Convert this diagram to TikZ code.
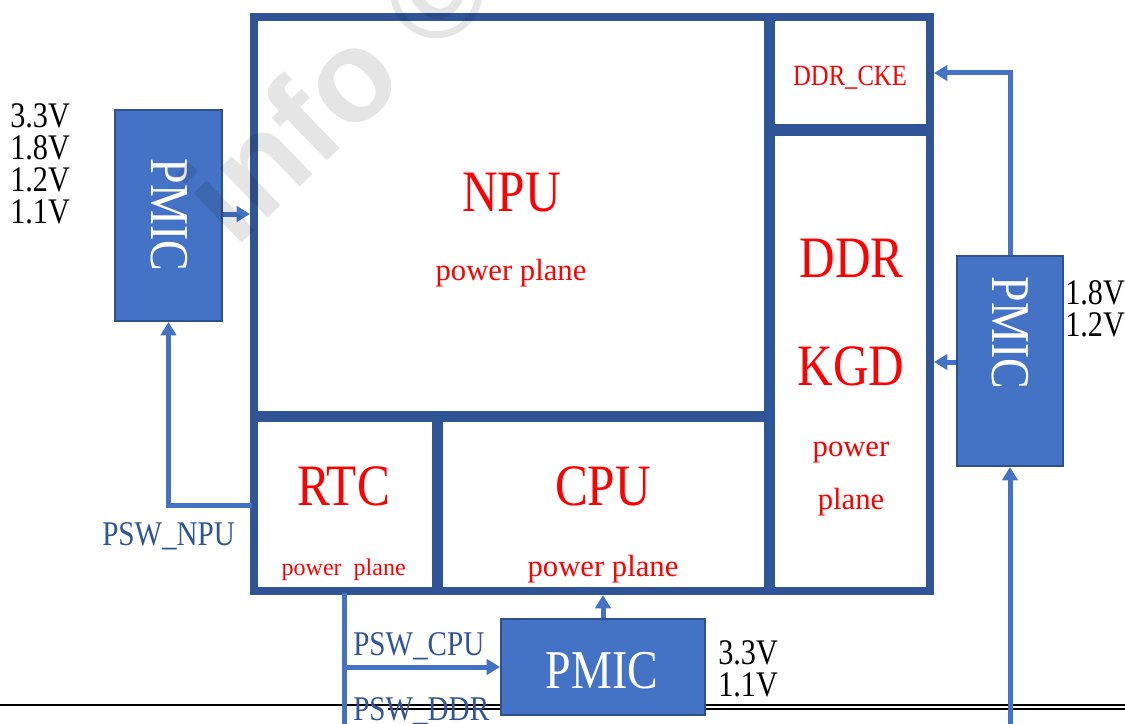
\documentclass[tikz,border=0pt]{standalone}
\usepackage{fontspec}
\setmainfont{Liberation Serif}[FakeStretch=0.84]
\newfontfamily\plainfont{Liberation Serif}
\newfontfamily\wmfont{Liberation Sans}
\usetikzlibrary{arrows.meta}
\definecolor{frameblue}{HTML}{2F5597}
\definecolor{pmicblue}{HTML}{4472C4}
\definecolor{pmicedge}{HTML}{2F528F}
\definecolor{lineblue}{HTML}{4472C4}
\definecolor{labelblue}{HTML}{2F5597}
\begin{document}
\begin{tikzpicture}[x=0.75pt,y=-0.75pt,
  frame/.style={draw=frameblue,line width=6pt},
  divider/.style={draw=frameblue,line width=8.25pt},
  pmic/.style={draw=pmicedge,line width=1.5pt,fill=pmicblue,inner sep=0pt},
  pmictext/.style={text=white,font=\fontsize{41}{41}\selectfont,inner sep=0pt},
  conn/.style={draw=lineblue,line width=3.75pt},
  arr/.style={conn,-{Triangle[length=10pt,width=11.5pt]}},
  big/.style={text=red,font=\fontsize{44}{44}\selectfont,inner sep=0pt,anchor=base},
  pp/.style={text=red,font=\plainfont\fontsize{23}{23}\selectfont,inner sep=0pt,anchor=base},
  volt/.style={font=\fontsize{27}{24}\selectfont,align=left,inner sep=0pt,anchor=north west},
  psw/.style={text=labelblue,font=\fontsize{26}{26}\selectfont,inner sep=0pt,anchor=base west},
  sheetline/.style={draw=black,line width=1.5pt}
]
\useasboundingbox (0,0) rectangle (1125,724);

% sheet lines at the bottom
\coordinate (sl1a) at (0,705);
\coordinate (sl1b) at (1125,705);
\coordinate (sl2a) at (388,709);
\coordinate (sl2b) at (1125,709);
\draw[sheetline] (sl1a) -- (sl1b);
\draw[sheetline] (sl2a) -- (sl2b);

% chip frame
\draw[frame] (254,17) rectangle (930,591);
\draw[divider] (769,13) -- (769,595);
\draw[divider] (254,416) -- (769,416);
\draw[divider] (437,416) -- (437,591);
\draw[divider] (769,130) -- (930,130);

% named connection points on the frame
\coordinate (npuW) at (250,214);
\coordinate (rtcW) at (252,505);
\coordinate (ddrE) at (934,362);
\coordinate (ckeE) at (934,73);
\coordinate (cpuS) at (603,595);
\coordinate (rtcS) at (344,593);
\coordinate (botL) at (344,730);
\coordinate (botR) at (1010,730);
\coordinate (brCPU) at (344,667);

% PMIC boxes
\node[pmic,minimum width=80.25pt,minimum height=158.25pt] (pmicL) at (168.5,215.5) {};
\node[pmic,minimum width=79.5pt,minimum height=157.5pt] (pmicR) at (1010,361) {};
\node[pmic,minimum width=153pt,minimum height=72pt] (pmicB) at (603,667) {};
\node[pmictext,rotate=-90] (pmicLt) at (169,215) {PMIC};
\node[pmictext,rotate=-90] (pmicRt) at (1010.5,333) {PMIC};
\node[pmictext,anchor=base] (pmicBt) at (602,688) {PMIC};

% connectors
\draw[arr] (pmicL.east |- npuW) -- (npuW);
\draw[arr] (rtcW) -| (pmicL.south);
\draw[arr] (pmicR.west |- ddrE) -- (ddrE);
\draw[arr] (pmicR.north) |- (ckeE);
\draw[arr] (botR) -- (pmicR.south);
\draw[arr] (pmicB.north) -- (cpuS);
\draw[conn] (rtcS) -- (botL);
\draw[arr] (brCPU) -- (pmicB.west);

% region labels
\node[big] (npuT) at (511.5,211) {NPU};
\node[pp] (npuP) at (511,280) {power plane};
\node[big] (rtcT) at (343.5,505) {RTC};
\node[pp,font=\plainfont\fontsize{18}{18}\selectfont] (rtcP) at (343.7,575) {power\ \ plane};
\node[big] (cpuT) at (603,505) {CPU};
\node[pp] (cpuP) at (603,576) {power plane};
\node[big] (ddrT) at (851.5,277) {DDR};
\node[big] (kgdT) at (851,385) {KGD};
\node[pp] (ddrP1) at (851,456) {power};
\node[pp] (ddrP2) at (851,509) {plane};
\node[text=red,font=\fontsize{22}{22}\selectfont,inner sep=0pt,anchor=base] (ckeT) at (850,85) {DDR\_CKE};

% voltage labels
\node[volt] (vL) at (10,103) {3.3V\\1.8V\\1.2V\\1.1V};
\node[volt] (vR) at (1065,280) {1.8V\\1.2V};
\node[volt] (vB) at (718,640) {3.3V\\1.1V};

% switch labels
\node[psw] (pswNPU) at (102,545) {PSW\_NPU};
\node[psw] (pswCPU) at (353,655) {PSW\_CPU};
\node[psw] (pswDDR) at (353,720) {PSW\_DDR};

% watermark
\begin{scope}
\clip (0,0) rectangle (1125,724);
\node[text=black,text opacity=0.1,font=\wmfont\bfseries\fontsize{98}{98}\selectfont,
      rotate=44,anchor=base west,inner sep=0pt] (wm) at (235,250) {info ©};
\end{scope}
\end{tikzpicture}
\end{document}
